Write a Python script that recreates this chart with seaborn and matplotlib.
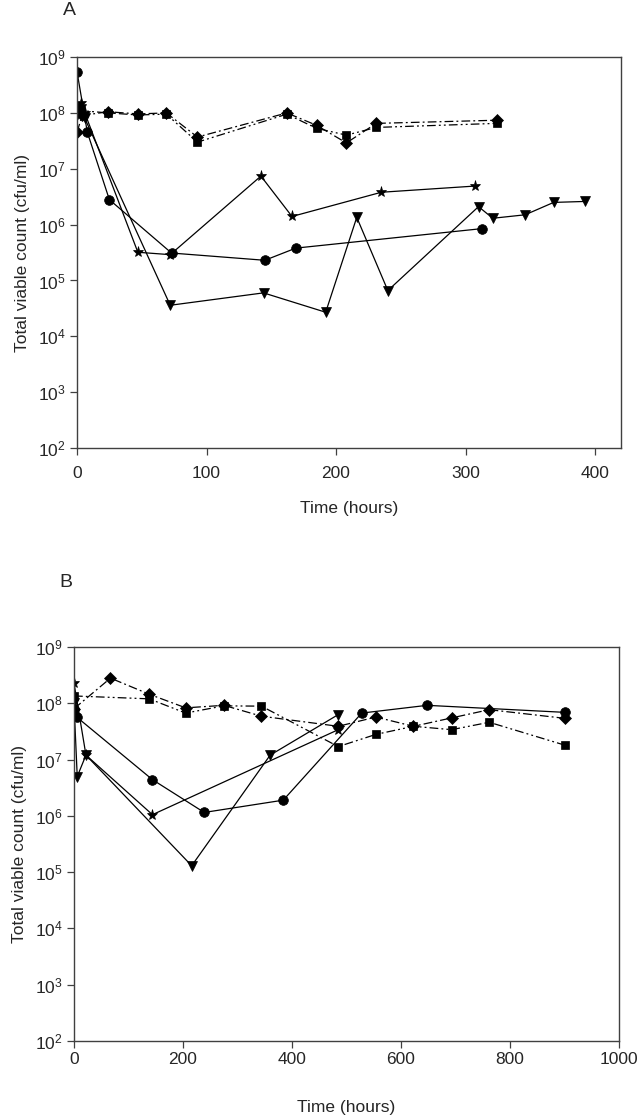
import matplotlib
matplotlib.use("Agg")
import matplotlib.pyplot as plt
import seaborn as sns
import numpy as np
import pandas as pd
from matplotlib.ticker import FixedLocator, FixedFormatter, NullLocator

# ---------------- Panel A data ----------------
a_circle_t = [0, 8, 25, 73, 145, 169, 313]
a_circle_v = [5.5e8, 4.5e7, 2.8e6, 3.1e5, 2.3e5, 3.8e5, 8.5e5]

a_star_t = [0, 3, 6, 47, 72, 142, 166, 235, 307]
a_star_v = [1.2e8, 1.5e8, 1.0e8, 3.2e5, 2.9e5, 7.4e6, 1.4e6, 3.8e6, 4.9e6]

a_tri_t = [0, 3, 6, 72, 144, 192, 216, 240, 310, 321, 346, 368, 392]
a_tri_v = [9e7, 1.2e8, 8e7, 3.6e4, 6e4, 2.7e4, 1.35e6, 6.6e4, 2.1e6, 1.3e6, 1.5e6, 2.5e6, 2.6e6]

a_dia_t = [0, 4, 24, 47, 69, 93, 162, 185, 208, 231, 324]
a_dia_v = [4.5e7, 9e7, 1.05e8, 9.6e7, 1.0e8, 3.7e7, 1.0e8, 6.0e7, 2.9e7, 6.5e7, 7.4e7]

a_sq_t = [0, 3, 24, 47, 69, 93, 162, 185, 208, 231, 324]
a_sq_v = [1.3e8, 1.1e8, 1.0e8, 9.2e7, 9.5e7, 3.0e7, 9.5e7, 5.3e7, 4.0e7, 5.5e7, 6.5e7]

# ---------------- Panel B data ----------------
b_circle_t = [0, 5, 144, 239, 384, 528, 648, 901]
b_circle_v = [8e7, 5.7e7, 4.4e6, 1.15e6, 1.9e6, 6.7e7, 9.2e7, 6.9e7]

b_star_t = [0, 22, 144, 485]
b_star_v = [2.3e8, 1.2e7, 1.05e6, 3.4e7]

b_tri_t = [0, 6, 22, 216, 360, 485]
b_tri_v = [1.0e8, 5e6, 1.2e7, 1.3e5, 1.2e7, 6.3e7]

b_dia_t = [0, 67, 138, 205, 275, 344, 485, 554, 623, 693, 762, 901]
b_dia_v = [8e7, 2.8e8, 1.45e8, 8.3e7, 9.2e7, 5.9e7, 3.9e7, 5.7e7, 3.9e7, 5.5e7, 7.7e7, 5.4e7]

b_sq_t = [0, 138, 205, 275, 344, 485, 554, 623, 693, 762, 901]
b_sq_v = [1.35e8, 1.2e8, 6.7e7, 9.0e7, 8.9e7, 1.7e7, 2.8e7, 3.9e7, 3.4e7, 4.6e7, 1.8e7]

y_tick_exp = [2, 3, 4, 5, 6, 7, 8, 9]
a_xticks = [0, 100, 200, 300, 400]
b_xticks = [0, 200, 400, 600, 800, 1000]

sns.set_style("ticks")
plt.rcParams['font.family'] = ['Liberation Sans', 'DejaVu Sans']
plt.rcParams['mathtext.fontset'] = 'custom'
plt.rcParams['mathtext.rm'] = 'Liberation Sans'
plt.rcParams['mathtext.it'] = 'Liberation Sans:italic'
plt.rcParams['mathtext.bf'] = 'Liberation Sans:bold'

fig = plt.figure(figsize=(6.41, 11.19), dpi=100)
axA = fig.add_axes([0.1201, 0.5996, 0.8487, 0.3494])
axB = fig.add_axes([0.1154, 0.0697, 0.8502, 0.3521])

dashdot = (0, (7, 2.5, 1.5, 2.5))
dashdotdot = (0, (7, 2.5, 1.5, 2.5, 1.5, 2.5))

def draw(ax, t, v, marker, ms, ls):
    df = pd.DataFrame({'t': t, 'v': v})
    sns.lineplot(data=df, x='t', y='v', ax=ax, estimator=None, sort=False,
                 color='black', linewidth=0.9, marker=marker, markersize=ms,
                 markeredgecolor='black', markerfacecolor='black',
                 markeredgewidth=0.5, linestyle=ls)

for ax, series in [
    (axA, [(a_dia_t, a_dia_v, 'D', 6.2, dashdot),
           (a_sq_t, a_sq_v, 's', 5.5, dashdotdot),
           (a_circle_t, a_circle_v, 'o', 7.0, '-'),
           (a_star_t, a_star_v, '*', 8.0, '-'),
           (a_tri_t, a_tri_v, 'v', 7.0, '-')]),
    (axB, [(b_dia_t, b_dia_v, 'D', 6.2, dashdot),
           (b_sq_t, b_sq_v, 's', 5.5, dashdotdot),
           (b_circle_t, b_circle_v, 'o', 7.0, '-'),
           (b_star_t, b_star_v, '*', 8.0, '-'),
           (b_tri_t, b_tri_v, 'v', 7.0, '-')])]:
    for t, v, m, ms, ls in series:
        draw(ax, t, v, m, ms, ls)

FS = 12.5
for ax, xt, xlim in [(axA, a_xticks, (0, 420)), (axB, b_xticks, (0, 1000))]:
    ax.set_yscale('log')
    ax.set_ylim(1e2, 1e9)
    ax.set_xlim(*xlim)
    ax.yaxis.set_major_locator(FixedLocator([10.0 ** e for e in y_tick_exp]))
    ax.yaxis.set_major_formatter(FixedFormatter([r'$\mathregular{10^{%d}}$' % e for e in y_tick_exp]))
    ax.yaxis.set_minor_locator(NullLocator())
    ax.set_xticks(xt)
    ax.set_xticklabels([str(x) for x in xt])
    ax.tick_params(axis='both', direction='out', length=5, width=0.9,
                   color='#404040', labelsize=FS, pad=3)
    for s in ax.spines.values():
        s.set_visible(True)
        s.set_color('#404040')
        s.set_linewidth(1.0)
    ax.set_ylabel('Total viable count (cfu/ml)', fontsize=FS, labelpad=6)
    ax.set_facecolor('white')

axA.tick_params(axis='x', pad=8)
axA.set_xlabel('Time (hours)', fontsize=FS, labelpad=14)
axB.tick_params(axis='x', pad=3)
axB.set_xlabel('Time (hours)', fontsize=FS, labelpad=24)

fig.text(63 / 641, 1 - 2 / 1119, 'A', fontsize=14, ha='left', va='top')
fig.text(59 / 641, 1 - 574 / 1119, 'B', fontsize=14, ha='left', va='top')

fig.savefig('out.png', dpi=100, facecolor='white')
